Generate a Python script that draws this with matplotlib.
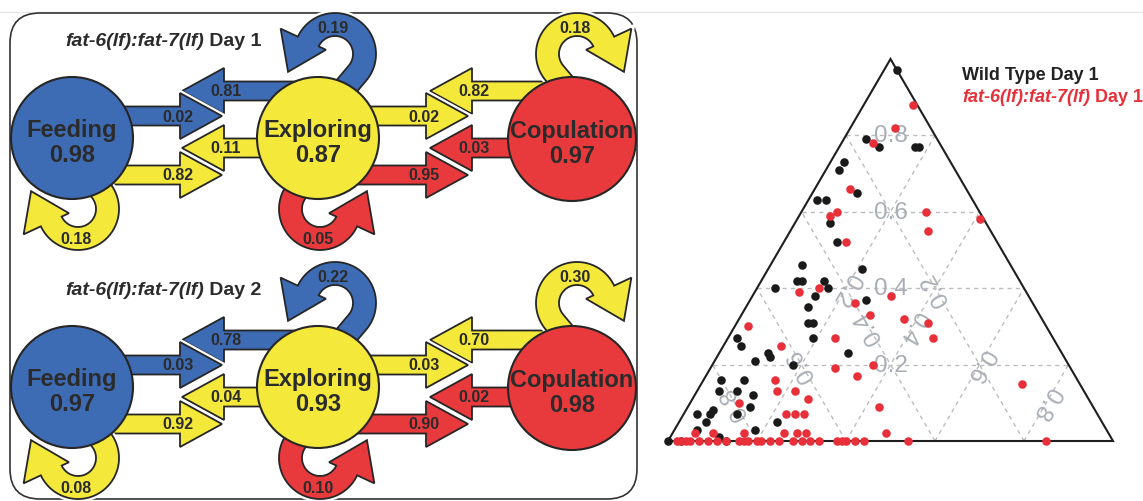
import numpy as np
import matplotlib
matplotlib.use('Agg')
import matplotlib.pyplot as plt
from matplotlib.patches import Polygon, Ellipse, FancyBboxPatch
import matplotlib.patheffects as pe

plt.rcParams['font.family'] = ['Liberation Sans', 'DejaVu Sans']

# --- transition diagram values ---
states = ['Feeding', 'Exploring', 'Copulation']
stay_day1 = [0.98, 0.87, 0.97]
stay_day2 = [0.97, 0.93, 0.98]
# Feeding <-> Exploring arrows, top to bottom
fe_day1 = [0.81, 0.02, 0.11, 0.82]
fe_day2 = [0.78, 0.03, 0.04, 0.92]
# Exploring <-> Copulation arrows, top to bottom
ec_day1 = [0.82, 0.02, 0.03, 0.95]
ec_day2 = [0.70, 0.03, 0.02, 0.90]
# self loops: Feeding (below), Exploring (above), Exploring (below), Copulation (above)
loops_day1 = [0.18, 0.19, 0.05, 0.18]
loops_day2 = [0.08, 0.22, 0.10, 0.30]
genotype = 'fat-6(lf):fat-7(lf)'
days = ['Day 1', 'Day 2']

# --- ternary values: (top, right) fractions, left = 1 - top - right ---
wt_top = [0.97, 0.79, 0.77, 0.77, 0.77, 0.73, 0.71, 0.65, 0.63, 0.63,
          0.57, 0.52, 0.46, 0.42, 0.42, 0.42, 0.45, 0.40, 0.40, 0.38,
          0.37, 0.35, 0.31, 0.31, 0.27, 0.23, 0.27, 0.25, 0.23, 0.22,
          0.21, 0.20, 0.16, 0.16, 0.13, 0.13, 0.12, 0.09, 0.08, 0.07,
          0.07, 0.05, 0.07, 0.05, 0.03, 0.01, 0.03, 0.00, 0.00, 0.00]
wt_right = [0.03, 0.05, 0.09, 0.17, 0.18, 0.03, 0.03, 0.10, 0.02, 0.04,
            0.08, 0.12, 0.07, 0.08, 0.09, 0.14, 0.21, 0.04, 0.16, 0.14,
            0.26, 0.14, 0.16, 0.17, 0.19, 0.29, 0.02, 0.04, 0.11, 0.12,
            0.09, 0.18, 0.04, 0.09, 0.05, 0.09, 0.13, 0.14, 0.06, 0.03,
            0.06, 0.06, 0.12, 0.22, 0.05, 0.11, 0.18, 0.00, 0.03, 0.13]
mut_top = [0.88, 0.82, 0.78, 0.66, 0.60, 0.59, 0.60, 0.58, 0.55, 0.52,
           0.39, 0.40, 0.38, 0.36, 0.33, 0.32, 0.31, 0.27, 0.27, 0.30,
           0.25, 0.19, 0.20, 0.17, 0.16, 0.13, 0.13, 0.11, 0.10, 0.07,
           0.07, 0.07, 0.09, 0.02, 0.15, 0.02, 0.02, 0.02, 0.02, 0.02,
           0.02] + [0.0] * 26
mut_right = [0.11, 0.10, 0.07, 0.08, 0.08, 0.07, 0.28, 0.41, 0.31, 0.14,
             0.10, 0.14, 0.31, 0.24, 0.29, 0.37, 0.43, 0.46, 0.24, 0.03,
             0.13, 0.28, 0.36, 0.34, 0.16, 0.18, 0.22, 0.26, 0.11, 0.23,
             0.25, 0.27, 0.43, 0.48, 0.72, 0.05, 0.09, 0.16, 0.25, 0.28,
             0.30,
             0.02, 0.03, 0.04, 0.05, 0.07, 0.09, 0.11, 0.13, 0.16, 0.17,
             0.18, 0.20, 0.21, 0.23, 0.25, 0.28, 0.30, 0.32, 0.34, 0.38,
             0.39, 0.40, 0.42, 0.44, 0.54, 0.85]
grid_vals = [0.2, 0.4, 0.6, 0.8]

BLUE = '#3e6cb4'
YELLOW = '#f4e93a'
RED = '#e83a3c'
EDGE = '#262626'
TXT = '#2b2b2b'
HALO = [pe.Stroke(linewidth=4.5, foreground='white'), pe.Normal()]


def block_arrow(ax, x0, x1, yc, color, label, body=9.5, head=23, head_len=42):
    d = 1 if x1 > x0 else -1
    xb = x1 - d * head_len
    pts = [(x0, yc - body), (xb, yc - body), (xb, yc - head), (x1, yc),
           (xb, yc + head), (xb, yc + body), (x0, yc + body)]
    ax.add_patch(Polygon(pts, closed=True, fc=color, ec=EDGE, lw=1.3,
                         joinstyle='miter', path_effects=HALO, zorder=2))
    ax.text(xb - 2 * d, yc, f'{label:.2f}', ha='center', va='center',
            fontsize=11.5, fontweight='bold', color=TXT, zorder=5)


def loop_arrow(ax, cx, cy, t0, t1, color, label, side, ri=18, ro=41,
               head_r=35, head_w=25, head_len=36, ext=32):
    s = np.sign(t1 - t0)
    t = np.radians(np.linspace(t0, t1, 80))
    a0, a1 = t[0], t[-1]
    tan0 = s * np.array([-np.sin(a0), np.cos(a0)])
    outer = np.c_[cx + ro * np.cos(t), cy + ro * np.sin(t)]
    inner = np.c_[cx + ri * np.cos(t), cy + ri * np.sin(t)]
    u = np.array([np.cos(a1), np.sin(a1)])
    v = s * np.array([-np.sin(a1), np.cos(a1)])
    base = np.array([cx, cy]) + head_r * u
    tip = base + head_len * v
    pts = np.vstack([outer[0] - ext * tan0, outer, base + head_w * u, tip,
                     base - head_w * u, inner[::-1], inner[0] - ext * tan0])
    ax.add_patch(Polygon(pts, closed=True, fc=color, ec=EDGE, lw=1.3,
                         joinstyle='miter', path_effects=HALO, zorder=2))
    rm = (ri + ro) / 2
    ly = cy + side * rm + (0 if side > 0 else 3)
    ax.text(cx - 2, ly, f'{label:.2f}', ha='center', va='center',
            fontsize=11.5, fontweight='bold', color=TXT, zorder=5)


def mixed_title(ax, fig, x, y, gene, rest, color, size):
    t1 = ax.text(x, y, gene, ha='left', va='baseline', fontsize=size,
                 fontstyle='italic', fontweight='bold', color=color, zorder=6)
    bb = t1.get_window_extent(renderer=fig.canvas.get_renderer())
    xe = ax.transData.inverted().transform((bb.x1, bb.y0))[0]
    ax.text(xe, y, ' ' + rest, ha='left', va='baseline', fontsize=size,
            fontweight='bold', color=color, zorder=6)


def draw_panel(ax, fig, dy, stay, fe, ec, loops, day):
    mixed_title(ax, fig, 65, 46 + dy, genotype, day, TXT, 14)

    fe_geom = [(300, 182, 92, BLUE), (90, 222, 117, BLUE),
               (300, 182, 149, YELLOW), (90, 222, 176, YELLOW)]
    ec_geom = [(560, 430, 92, YELLOW), (330, 468, 117, YELLOW),
               (560, 430, 149, RED), (330, 468, 176, RED)]
    for (x0, x1, yc, col), p in zip(fe_geom, fe):
        block_arrow(ax, x0, x1, yc + dy, col, p)
    for (x0, x1, yc, col), p in zip(ec_geom, ec):
        block_arrow(ax, x0, x1, yc + dy, col, p)

    loop_geom = [(78, 210, -50, 155, YELLOW, 1), (335, 55, 40, -155, BLUE, -1),
                 (320, 210, 230, 25, RED, 1), (577, 55, 140, 335, YELLOW, -1)]
    for (cx, cy, t0, t1, col, side), p in zip(loop_geom, loops):
        loop_arrow(ax, cx, cy + dy, t0, t1, col, p, side)

    circ_geom = [(72, 139, 122, 122, BLUE), (318, 139, 122, 122, YELLOW),
                 (572, 140, 128, 124, RED)]
    for (cx, cy, w, h, col), name, p in zip(circ_geom, states, stay):
        ax.add_patch(Ellipse((cx, cy + dy), w, h, fc=col, ec=EDGE, lw=1.5,
                             zorder=3))
        ax.text(cx, cy + dy - 8, name, ha='center', va='center',
                fontsize=17, fontweight='bold', color=TXT, zorder=5)
        ax.text(cx, cy + dy + 17, f'{p:.2f}', ha='center', va='center',
                fontsize=17, fontweight='bold', color=TXT, zorder=5)


fig = plt.figure(figsize=(11.43, 5.02), dpi=100)
ax = fig.add_axes([0, 0, 1, 1])
ax.set_xlim(0, 1143)
ax.set_ylim(502, 0)
ax.axis('off')

ax.plot([0, 1143], [13, 13], color='#e6e6e6', lw=1, zorder=0)
ax.add_patch(FancyBboxPatch((10, 14), 627, 486,
                            boxstyle='round,pad=0,rounding_size=30',
                            fc='white', ec='#333333', lw=1.2, zorder=1))

draw_panel(ax, fig, 0, stay_day1, fe_day1, ec_day1, loops_day1, days[0])
draw_panel(ax, fig, 249, stay_day2, fe_day2, ec_day2, loops_day2, days[1])

# legend of the ternary plot
ax.text(962, 76, 'Wild Type Day 1', ha='left', va='center', fontsize=13,
        fontweight='bold', color='#222222')
mixed_title(ax, fig, 962, 102, genotype, days[0], '#e8303a', 13)

# --- ternary plot ---
tax = fig.add_axes([668 / 1143, 60 / 502, 445 / 1143, 382 / 502])
tax.set_xlim(0, 1)
tax.set_ylim(0, 1)
tax.axis('off')

gcol = '#bdbdbd'
lab = '#a9aeb6'
for v in grid_vals:
    w = 1 - v
    tax.plot([v / 2, 1 - v / 2], [v, v], color=gcol, lw=1, ls=(0, (3, 3)))
    tax.plot([v, v + w / 2], [0, w], color=gcol, lw=1, ls=(0, (3, 3)))
    tax.plot([w, w / 2], [0, w], color=gcol, lw=1, ls=(0, (3, 3)))
    tax.text(0.5, v, f'{v:.1f}', ha='center', va='center', fontsize=17.5,
             color=lab, rotation=0)
    tax.text(v + w / 4, w / 2, f'{v:.1f}', ha='center', va='center',
             fontsize=17.5, color=lab, rotation=-120, rotation_mode='anchor')
    tax.text(w / 2 + w / 4, w / 2, f'{v:.1f}', ha='center', va='center',
             fontsize=17.5, color=lab, rotation=120, rotation_mode='anchor')

tax.plot([0, 1, 0.5, 0], [0, 0, 1, 0], color='#1e1e1e', lw=1.5,
         clip_on=False, solid_joinstyle='miter')

wt_top = np.array(wt_top)
wt_right = np.array(wt_right)
mut_top = np.array(mut_top)
mut_right = np.array(mut_right)
tax.scatter(wt_right + wt_top / 2, wt_top, s=38, color='#1a1a1a',
            lw=0, clip_on=False, zorder=4)
tax.scatter(mut_right + mut_top / 2, mut_top, s=38, color='#e8303a',
            lw=0, clip_on=False, zorder=5)

fig.savefig('out.png', dpi=100)
